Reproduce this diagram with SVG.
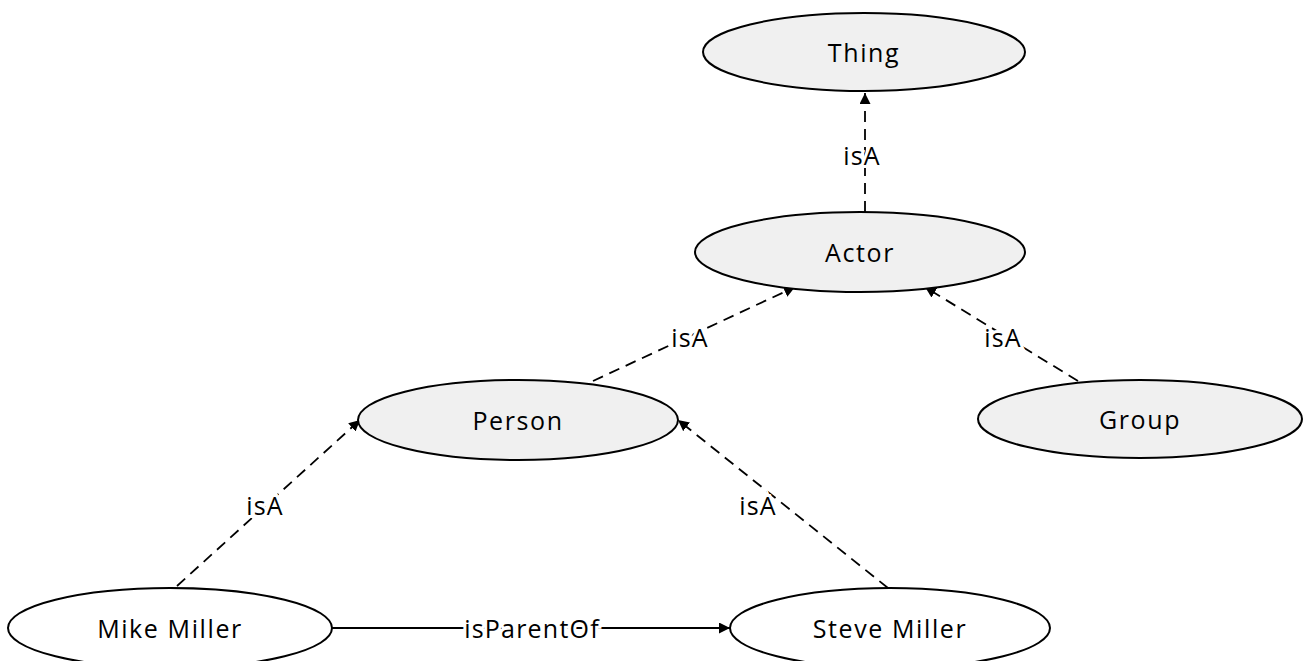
<svg xmlns="http://www.w3.org/2000/svg" width="1303" height="661" viewBox="0 0 1303 661">
  <defs>
    <marker id="arrow" viewBox="0 0 10 10" refX="10" refY="5" markerWidth="11" markerHeight="11" markerUnits="userSpaceOnUse" orient="auto">
      <path d="M0,0 L10,5 L0,10 z" fill="#000"/>
    </marker>
  </defs>
  <style>
    .cls { fill: #f0f0f0; stroke: #000; stroke-width: 2; }
    .inst { fill: #fff; stroke: #000; stroke-width: 2; }
    .lbl { font-family: "Open Sans", "Liberation Sans", sans-serif; font-size: 25px; fill: #000; text-anchor: middle; dominant-baseline: central; letter-spacing: 1.6px; }
    .edge { fill: none; stroke: #000; stroke-width: 1.8; marker-end: url(#arrow); }
    .dash { stroke-dasharray: 11 7; }
    .elbl { font-family: "Open Sans", "Liberation Sans", sans-serif; font-size: 25px; fill: #000; text-anchor: middle; dominant-baseline: central; letter-spacing: 1.2px; paint-order: stroke; stroke: #fff; stroke-width: 6px; }
  </style>

  <!-- connectors -->
  <g id="edges">
    <line class="edge dash" x1="865" y1="212" x2="865" y2="93"/>
    <line class="edge dash" x1="593" y1="381" x2="795" y2="287"/>
    <line class="edge dash" x1="1078" y1="381" x2="925" y2="287"/>
    <line class="edge dash" x1="177" y1="586" x2="360" y2="420"/>
    <line class="edge dash" x1="888" y1="588" x2="678" y2="420"/>
    <line class="edge" x1="332" y1="628" x2="730" y2="628"/>
    <text class="elbl" x="862" y="155">isA</text>
    <text class="elbl" x="690" y="337">isA</text>
    <text class="elbl" x="1003" y="337">isA</text>
    <text class="elbl" x="265" y="505">isA</text>
    <text class="elbl" x="758" y="505">isA</text>
    <text class="elbl" x="532" y="628">isParentOf</text>
  </g>

  <g id="thing">
    <ellipse class="cls" cx="864" cy="52" rx="161" ry="39"/>
    <text class="lbl" x="864" y="52">Thing</text>
  </g>
  <g id="actor">
    <ellipse class="cls" cx="860" cy="252" rx="165" ry="40"/>
    <text class="lbl" x="860" y="252">Actor</text>
  </g>
  <g id="person">
    <ellipse class="cls" cx="518" cy="420" rx="160" ry="40"/>
    <text class="lbl" x="518" y="420">Person</text>
  </g>
  <g id="group">
    <ellipse class="cls" cx="1140" cy="419" rx="162" ry="39"/>
    <text class="lbl" x="1140" y="419">Group</text>
  </g>
  <g id="mike-miller">
    <ellipse class="inst" cx="170" cy="628" rx="162" ry="40"/>
    <text class="lbl" x="170" y="628">Mike Miller</text>
  </g>
  <g id="steve-miller">
    <ellipse class="inst" cx="890" cy="628" rx="160" ry="40"/>
    <text class="lbl" x="890" y="628">Steve Miller</text>
  </g>
</svg>
